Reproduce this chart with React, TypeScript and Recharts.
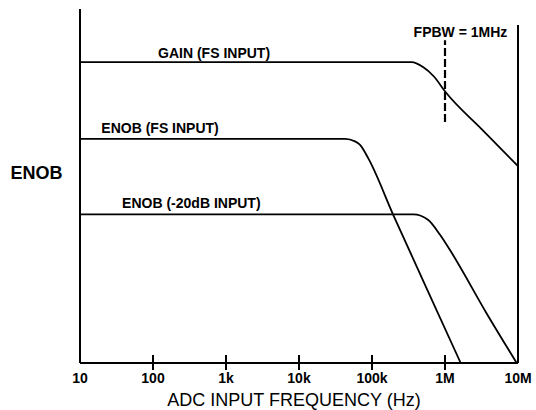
import React from 'react';
import { ComposedChart, Line, Scatter, XAxis, YAxis, ReferenceLine, ReferenceDot } from 'recharts';

// Frequency axis (Hz, log scale)
const frequencyTicks = [10, 100, 1e3, 1e4, 1e5, 1e6, 1e7];
const tickLabels = ['10', '100', '1k', '10k', '100k', '1M', '10M'];
// Inner decades marked across the axis line
const markedTicks = [100, 1e3, 1e4, 1e5, 1e6];

// GAIN (FS INPUT)
const gainFreq = [10, 3.5e5, 5.0e5, 7.0e5, 1.03e6, 3.2e6, 1e7];
const gainLevel = [8.5, 8.5, 8.36, 8.1, 7.64, 6.6, 5.56];

// ENOB (FS INPUT)
const enobFsFreq = [10, 4.27e4, 5.85e4, 6.86e4, 8.9e4, 1.96e5, 5.66e5, 1.64e6];
const enobFsLevel = [6.33, 6.33, 6.26, 6.16, 5.78, 4.18, 2.09, 0];

// ENOB (-20dB INPUT)
const enob20Freq = [10, 3.68e5, 5.9e5, 8.55e5, 1.17e6, 3.72e6, 9.6e6];
const enob20Level = [4.2, 4.2, 4.04, 3.62, 3.19, 1.4, 0];

// Full-power bandwidth marker and the upper frequency limit
const fpbwFreq = 1e6;
const fpbwSpan = [6.81, 9.12];
const limitFreq = 1e7;
const limitTop = 9.55;

// Curve annotations: text, frequency, level
const annotationText = ['GAIN (FS INPUT)', 'ENOB (FS INPUT)', 'ENOB (-20dB INPUT)', 'FPBW = 1MHz'];
const annotationFreq = [686, 125, 335, 1.63e6];
const annotationLevel = [8.77, 6.65, 4.53, 9.35];

const toSeries = (f: number[], v: number[]) => f.map((freq, i) => ({ f: freq, v: v[i] }));
const gainData = toSeries(gainFreq, gainLevel);
const enobFsData = toSeries(enobFsFreq, enobFsLevel);
const enob20Data = toSeries(enob20Freq, enob20Level);
const markData = markedTicks.map((f) => ({ f, v: 0 }));

const FONT = '"Liberation Sans", Arial, Helvetica, sans-serif';
const INK = '#000';

const TICK_SIZE = 7;
const TICK_MARGIN = 2;

// Decade label under the axis
const FreqTick = (props: any) => {
  const { x, y, payload } = props;
  const idx = frequencyTicks.indexOf(payload.value);
  const axisY = y - TICK_SIZE - TICK_MARGIN;
  return (
    <text x={x} y={axisY + 20} textAnchor="middle" fontFamily={FONT} fontSize={14} fontWeight="bold" fill={INK}>
      {tickLabels[idx]}
    </text>
  );
};

// Tick mark straddling the axis line, centred on the scaled decade position
const DecadeMark = (props: any) => {
  const cx = Number(props.cx);
  const cy = Number(props.cy);
  if (!isFinite(cx) || !isFinite(cy)) return null;
  return <path d={`M${cx},${cy - 8}V${cy + 7}`} stroke={INK} strokeWidth={2} fill="none" />;
};

const XTitle = (props: any) => {
  const vb = props.viewBox || { x: 80, y: 363, width: 438, height: 47 };
  return (
    <text x={vb.x + vb.width / 2 - 5} y={vb.y + 43} textAnchor="middle" fontFamily={FONT} fontSize={18} fill={INK}>
      ADC INPUT FREQUENCY (Hz)
    </text>
  );
};

const YTitle = (props: any) => {
  const vb = props.viewBox || { x: 0, y: 9, width: 80, height: 354 };
  return (
    <text x={vb.x + 36.5} y={179} textAnchor="middle" fontFamily={FONT} fontSize={18} fontWeight="bold" fill={INK}>
      ENOB
    </text>
  );
};

export default function App() {
  return (
    <div style={{ position: 'absolute', left: 0, top: 0, background: '#fff' }}>
      <ComposedChart width={536} height={410} margin={{ top: 9, right: 18, left: 0, bottom: 0 }} style={{ fontFamily: FONT }}>
        <XAxis
          dataKey="f"
          type="number"
          scale="log"
          domain={[10, 1e7]}
          ticks={frequencyTicks}
          interval={0}
          height={47}
          tickSize={TICK_SIZE}
          tickMargin={TICK_MARGIN}
          tickLine={false}
          tick={<FreqTick />}
          axisLine={{ stroke: INK, strokeWidth: 2 }}
          label={{ content: <XTitle /> }}
        />
        <YAxis
          type="number"
          dataKey="v"
          domain={[0, 10]}
          width={80}
          tick={false}
          tickLine={false}
          axisLine={{ stroke: INK, strokeWidth: 2 }}
          label={{ content: <YTitle /> }}
        />
        <ReferenceLine
          segment={[{ x: limitFreq, y: 0 }, { x: limitFreq, y: limitTop }]}
          stroke={INK}
          strokeWidth={2}
        />
        <ReferenceLine
          segment={[{ x: fpbwFreq, y: fpbwSpan[0] }, { x: fpbwFreq, y: fpbwSpan[1] }]}
          stroke={INK}
          strokeWidth={2.2}
          strokeDasharray="8 3"
        />
        <Line data={gainData} dataKey="v" type="monotone" stroke={INK} strokeWidth={1.8} dot={false} isAnimationActive={false} />
        <Line data={enobFsData} dataKey="v" type="monotone" stroke={INK} strokeWidth={1.8} dot={false} isAnimationActive={false} />
        <Line data={enob20Data} dataKey="v" type="monotone" stroke={INK} strokeWidth={1.8} dot={false} isAnimationActive={false} />
        <Scatter data={markData} dataKey="v" shape={<DecadeMark />} isAnimationActive={false} />
        {annotationText.map((t, i) => (
          <ReferenceDot
            key={t}
            x={annotationFreq[i]}
            y={annotationLevel[i]}
            r={0}
            fill="none"
            stroke="none"
            label={{ value: t, position: 'center', fontFamily: FONT, fontSize: 14, fontWeight: 'bold', fill: INK }}
          />
        ))}
      </ComposedChart>
    </div>
  );
}
